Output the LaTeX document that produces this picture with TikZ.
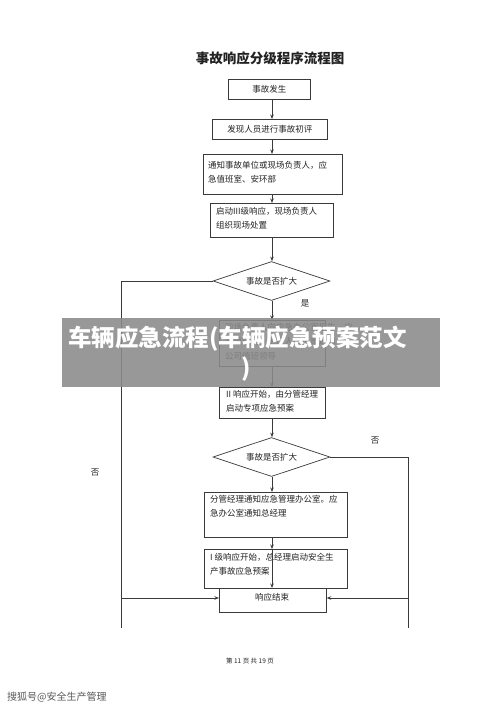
\documentclass[tikz,border=0pt]{standalone}
\usepackage{fontspec}
\setmainfont{Noto Sans CJK SC}
\usetikzlibrary{shapes.geometric,arrows.meta}
\definecolor{linec}{HTML}{3A3A3A}
\definecolor{txtc}{HTML}{222222}
\tikzset{
  flowbox/.style={draw=linec, line width=0.7pt, fill=white, inner sep=0pt, anchor=north west},
  dia/.style={draw=linec, line width=0.7pt, fill=white, diamond, aspect=3, inner sep=0pt, minimum width=117pt, minimum height=39pt, font=\fontsize{8.5}{10}\selectfont, text=txtc},
  btxt/.style={anchor=north west, inner sep=0pt, align=left, font=\fontsize{8.5}{14.5}\selectfont, text=txtc},
  ctxt/.style={inner sep=0pt, font=\fontsize{8.5}{10}\selectfont, text=txtc},
  conn/.style={draw=linec, line width=0.7pt},
  arr/.style={conn, -{Stealth[length=4.5pt,width=3.5pt]}},
  lbl/.style={inner sep=0pt, font=\fontsize{8.5}{10}\selectfont, text=txtc}
}
\begin{document}
\begin{tikzpicture}[x=1pt,y=-1pt]
\fill[white] (0,0) rectangle (500,707);
\useasboundingbox (0,0) rectangle (500,707);
\coordinate (sp) at (272,0);
% title
\node[inner sep=0pt, font=\fontsize{13.5}{15}\selectfont\bfseries, text=txtc] (title) at (270,58) {事故响应分级程序流程图};
% boxes
\node[flowbox, minimum width=82pt, minimum height=20pt] (b1) at (228,79) {};
\node[ctxt] (t1) at (b1.center) {事故发生};
\node[flowbox, minimum width=115pt, minimum height=20pt] (b2) at (212,119) {};
\node[ctxt] (t2) at (b2.center) {发现人员进行事故初评};
\node[flowbox, minimum width=139pt, minimum height=40pt] (b3) at (203,154) {};
\node[btxt] (t3) at (208,161) {通知事故单位或现场负责人，应\\急值班室、安环部};
\node[flowbox, minimum width=123pt, minimum height=34pt] (b4) at (210,203) {};
\node[btxt] (t4) at (216,207) {启动III级响应，现场负责人\\组织现场处置};
\node[dia] (d1) at (271.5,281) {事故是否扩大};
\node[flowbox, minimum width=106pt, minimum height=46pt] (b5) at (219,320) {};
\node[btxt] (t5) at (225,323) {现场负责人向应急办公室报告，应\\急值班室，值班人员负责通知\\公司值班领导};
\node[flowbox, minimum width=106pt, minimum height=31pt] (b6) at (219,387) {};
\node[btxt] (t6) at (226,390) {II 响应开始，由分管经理\\启动专项应急预案};
\node[dia] (d2) at (271.5,457) {事故是否扩大};
\node[flowbox, minimum width=143pt, minimum height=45pt] (b7) at (204,492) {};
\node[btxt] (t7) at (210,495) {分管经理通知应急管理办公室。应\\急办公室通知总经理};
\node[flowbox, minimum width=143pt, minimum height=39pt] (b8) at (204,549) {};
\node[btxt] (t8) at (210,553) {I 级响应开始，总经理启动安全生\\产事故应急预案};
\node[flowbox, minimum width=107pt, minimum height=24pt] (b9) at (219,588) {};
\node[ctxt] (t9) at (272,597) {响应结束};
% connectors
\draw[arr] (b1.south -| sp) -- (b2.north -| sp);
\draw[arr] (b2.south -| sp) -- (b3.north -| sp);
\draw[arr] (b3.south -| sp) -- (b4.north -| sp);
\draw[arr] (b4.south -| sp) -- (d1.north -| sp);
\draw[arr] (d1.south -| sp) -- (b5.north -| sp);
\draw[arr] (b5.south -| sp) -- (b6.north -| sp);
\draw[arr] (b6.south -| sp) -- (d2.north -| sp);
\draw[arr] (d2.south -| sp) -- (b7.north -| sp);
\draw[arr] (b7.south -| sp) -- (b8.north -| sp);
\draw[arr] (b8.north -| sp) -- (b9.north -| sp);
\coordinate (lt) at (121,281);
\coordinate (lm) at (121,598);
\coordinate (lb) at (121,628);
\coordinate (rt) at (408,457);
\coordinate (rm) at (408,598);
\coordinate (rb) at (408,628);
\draw[conn] (d1.west) -- (lt) -- (lb);
\draw[arr] (lm) -- (b9.west |- lm);
\draw[conn] (d2.east) -- (rt) -- (rb);
\draw[arr] (rm) -- (b9.east |- rm);
% labels
\node[lbl] (yes1) at (305,303) {是};
\node[lbl] (no1) at (95,473) {否};
\node[lbl] (no2) at (375,441) {否};
% footer
\node[inner sep=0pt, font=\fontsize{6.5}{8}\selectfont, text=txtc] (foot) at (250,661) {第 11 页 共 19 页};
% banner
\fill[black!46, opacity=0.88] (62,318) rectangle (440,387);
\node[anchor=west, inner sep=0pt, font=\fontsize{23.5}{26}\selectfont\bfseries, text=white] (ban1) at (68,339) {车辆应急流程(车辆应急预案范文};
\node[inner sep=0pt, font=\fontsize{23.5}{26}\selectfont\bfseries, text=white] (ban2) at (246,369) {)};
% watermark
\node[anchor=west, inner sep=0pt, font=\fontsize{10}{12}\selectfont, text=black!65] (wm) at (7,697) {搜狐号@安全生产管理};
\end{tikzpicture}
\end{document}
